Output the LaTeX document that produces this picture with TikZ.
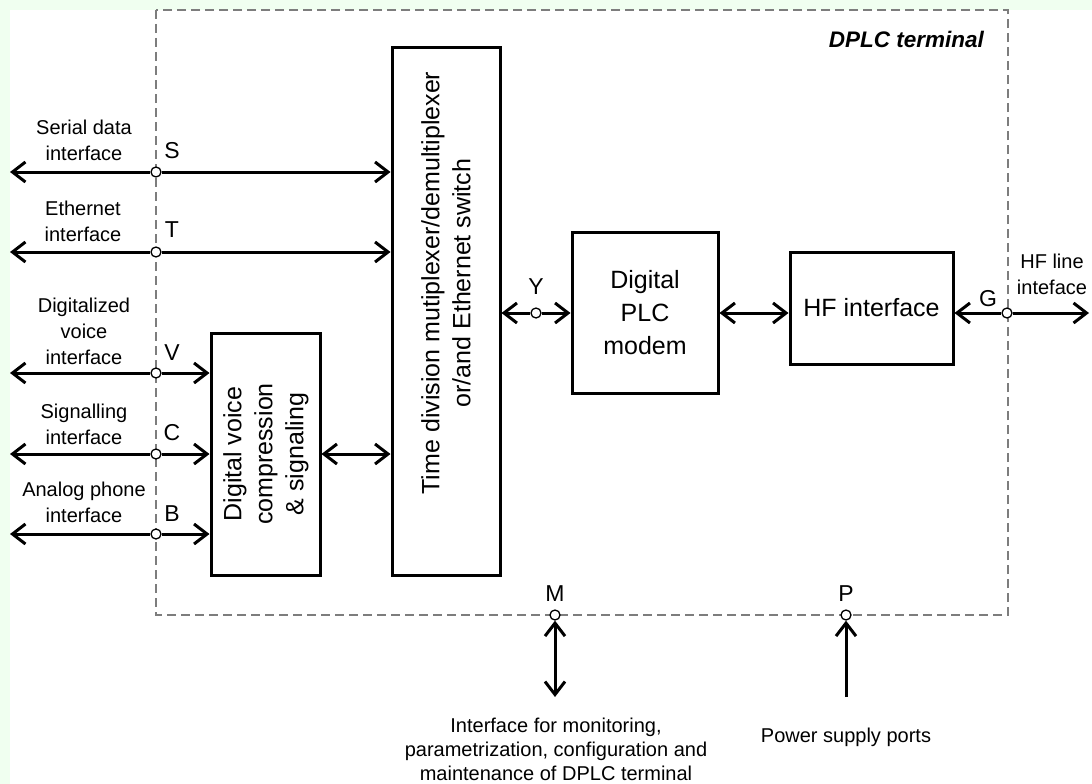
\documentclass[tikz,border=0pt]{standalone}
\usepackage{fontspec}
\setmainfont{Liberation Sans}
\usetikzlibrary{arrows.meta}
\definecolor{bggreen}{RGB}{240,255,240}
\definecolor{framegray}{RGB}{125,125,125}
\begin{document}
\begin{tikzpicture}[x=1pt,y=-1pt,
  >={Straight Barb[length=13pt,width=20pt]},
  frame/.style={draw=framegray,line width=1.1pt,dash pattern=on 9pt off 5pt},
  box/.style={draw,line width=3pt,inner sep=0pt},
  boxtext/.style={inner sep=0pt,align=center,font=\fontsize{25}{31}\selectfont},
  conn/.style={line width=3pt},
  port/.style={circle,draw,fill=white,line width=1.3pt,inner sep=0pt,minimum size=10pt},
  letter/.style={inner sep=0pt,font=\fontsize{23}{26}\selectfont},
  iflabel/.style={inner sep=0pt,align=center,font=\fontsize{20}{26}\selectfont},
  bottomlabel/.style={inner sep=0pt,align=center,font=\fontsize{20}{24}\selectfont}]
% background
\fill[white] (0,0) rectangle (1092,784);
\fill[bggreen] (0,0) rectangle (1092,10);
\fill[bggreen] (0,0) rectangle (10,784);
\useasboundingbox (0,0) rectangle (1092,784);
% terminal frame
\draw[frame] (156,10) rectangle (1008,615);
\node[anchor=east,inner sep=0pt,font=\fontsize{22.5}{25}\selectfont\bfseries\itshape] (title) at (984,39) {DPLC terminal};
% boxes
\node[box,minimum width=108pt,minimum height=527pt] (mux) at (446,311.5) {};
\node[boxtext,rotate=90] (muxtext) at (446,283) {Time division mutiplexer/demultiplexer\\or/and Ethernet switch};
\node[box,minimum width=109pt,minimum height=242pt] (voice) at (265.5,454) {};
\node[boxtext,rotate=90] (voicetext) at (266,454) {Digital voice\\compression\\\& signaling};
\node[box,minimum width=146pt,minimum height=161pt,boxtext,font=\fontsize{25}{33}\selectfont] (plc) at (645,312.5) {Digital\\PLC\\modem};
\node[box,minimum width=163pt,minimum height=112pt,boxtext] (hf) at (871.5,308) {HF interface};
% ports
\node[port] (pS) at (156,172) {};
\node[port] (pT) at (156,252) {};
\node[port] (pV) at (156,373) {};
\node[port] (pC) at (156,454) {};
\node[port] (pB) at (156,534) {};
\node[port] (pY) at (536,313) {};
\node[port] (pG) at (1007,313) {};
\node[port] (pM) at (555,615) {};
\node[port] (pP) at (846,615) {};
% free ends
\coordinate (eS) at (10,172);
\coordinate (eT) at (10,252);
\coordinate (eV) at (10,373);
\coordinate (eC) at (10,454);
\coordinate (eB) at (10,534);
\coordinate (eG) at (1089,313);
\coordinate (eM) at (555,697);
\coordinate (eP) at (846,697);
% connectors
\draw[conn,->] (pS) -- (eS);
\draw[conn,->] (pS) -- (mux.west |- pS);
\draw[conn,->] (pT) -- (eT);
\draw[conn,->] (pT) -- (mux.west |- pT);
\draw[conn,->] (pV) -- (eV);
\draw[conn,->] (pV) -- (voice.west |- pV);
\draw[conn,->] (pC) -- (eC);
\draw[conn,->] (pC) -- (voice.west |- pC);
\draw[conn,->] (pB) -- (eB);
\draw[conn,->] (pB) -- (voice.west |- pB);
\draw[conn,<->] (voice.east |- pC) -- (mux.west |- pC);
\draw[conn,->] (pY) -- (mux.east |- pY);
\draw[conn,->] (pY) -- (plc.west |- pY);
\draw[conn,<->] (plc.east |- pY) -- (hf.west |- pY);
\draw[conn,->] (pG) -- (hf.east |- pG);
\draw[conn,->] (pG) -- (eG);
\draw[conn,<->] (pM) -- (eM);
\draw[conn,->] (eP) -- (pP);
% port letters
\node[letter] (lS) at (172,151) {S};
\node[letter] (lT) at (172,230) {T};
\node[letter] (lV) at (172,353) {V};
\node[letter] (lC) at (172,433) {C};
\node[letter] (lB) at (172,514) {B};
\node[letter] (lY) at (536,287) {Y};
\node[letter] (lG) at (988,299) {G};
\node[letter] (lM) at (555,594) {M};
\node[letter] (lP) at (846,594) {P};
% interface labels
\node[iflabel] (tS) at (84,140) {Serial data\\interface};
\node[iflabel] (tT) at (83,221) {Ethernet\\interface};
\node[iflabel] (tV) at (84,331) {Digitalized\\voice\\interface};
\node[iflabel] (tC) at (84,424) {Signalling\\interface};
\node[iflabel] (tB) at (84,502) {Analog phone\\interface};
\node[iflabel] (tG) at (1052,274) {HF line\\inteface};
\node[bottomlabel] (tM) at (556,749) {Interface for monitoring,\\parametrization, configuration and\\maintenance of DPLC terminal};
\node[bottomlabel] (tP) at (846,737) {Power supply ports};
\end{tikzpicture}
\end{document}
